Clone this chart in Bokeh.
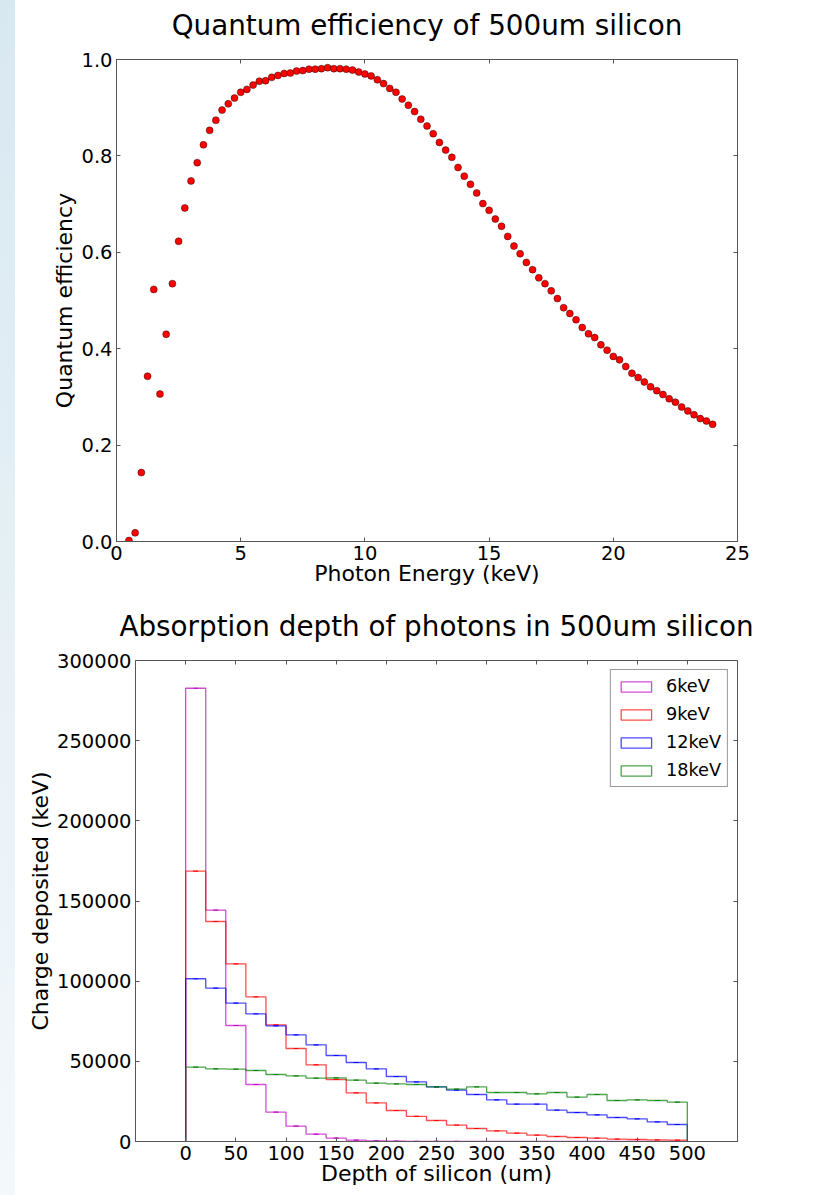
import numpy as np
from bokeh.plotting import figure
from bokeh.layouts import column, row
from bokeh.models import (LinearAxis, FixedTicker, BasicTickFormatter, NumeralTickFormatter,
                          CustomJSTickFormatter, Range1d, Div, Spacer)
from bokeh.embed import file_html
from bokeh.resources import INLINE

# ---------------- data ----------------
# photon energies (keV), regular 0.25 keV grid from 0.5 to 24.0
energy_kev = np.arange(0.5, 24.0 + 0.125, 0.25)
quantum_eff = [
    0.002, 0.018, 0.143, 0.343, 0.523, 0.306, 0.430, 0.535, 0.623, 0.692,
    0.748, 0.786, 0.823, 0.853, 0.874, 0.895, 0.908, 0.920, 0.932, 0.938,
    0.947, 0.955, 0.956, 0.963, 0.967, 0.971, 0.972, 0.976, 0.977, 0.980,
    0.980, 0.981, 0.983, 0.981, 0.981, 0.980, 0.978, 0.974, 0.970,
    0.966, 0.958, 0.950, 0.940, 0.932, 0.918, 0.905, 0.892, 0.876, 0.862,
    0.846, 0.828, 0.812, 0.797, 0.776, 0.758, 0.741, 0.723, 0.701, 0.687,
    0.669, 0.654, 0.633, 0.613, 0.597, 0.579, 0.564, 0.547, 0.535, 0.520,
    0.504, 0.485, 0.473, 0.460, 0.444, 0.431, 0.423, 0.408, 0.397, 0.384,
    0.377, 0.363, 0.349, 0.340, 0.331, 0.321, 0.313, 0.305, 0.296, 0.289,
    0.279, 0.271, 0.263, 0.255, 0.250, 0.243,
]
qe_xticks = [0, 5, 10, 15, 20, 25]
qe_yticks = [0.0, 0.2, 0.4, 0.6, 0.8, 1.0]

# depth bins (um): 25 bins of 20 um from 0 to 500
bin_edges = np.arange(0, 500 + 1, 20)
charge_6kev = [282700, 144300, 72350, 35550, 18290, 9560, 4570, 2080, 830, 400,
               200, 100, 50, 25, 12, 6, 3, 2, 1, 0, 0, 0, 0, 0, 0]
charge_9kev = [168600, 137200, 110800, 90230, 72770, 58000, 47820, 38670, 30350, 24120,
               19330, 15700, 13100, 10190, 8110, 6650, 5200, 3950, 3120, 2490,
               2080, 1450, 1250, 1040, 830]
charge_12kev = [101500, 95630, 86270, 79620, 72140, 66530, 60300, 53640, 49270, 45330,
                40540, 37220, 34100, 32020, 29310, 25990, 23280, 23280, 19540, 18090,
                16630, 14970, 14140, 12270, 10600]
charge_18kev = [46360, 45320, 45110, 44280, 41790, 40960, 39500, 39710, 38250, 36380,
                35970, 35550, 34100, 32640, 34100, 30560, 30560, 29730, 30560, 27650,
                29310, 25570, 25990, 25570, 24530]
depth_xticks = [0, 50, 100, 150, 200, 250, 300, 350, 400, 450, 500]
charge_yticks = [0, 50000, 100000, 150000, 200000, 250000, 300000]
series_labels = ["6keV", "9keV", "12keV", "18keV"]
series_colors = ["#bf00bf", "#ff0000", "#0000ff", "#008000"]
series_values = [charge_6kev, charge_9kev, charge_12kev, charge_18kev]

FONT = "DejaVu Sans"
FRAME = "#555555"
BLANK = CustomJSTickFormatter(code="return ''")


def style(p, xticks, yticks, yfmt, title_standoff):
    p.title.text_font = FONT
    p.title.text_font_size = "27.8px"
    p.title.text_font_style = "normal"
    p.title.text_color = "black"
    p.title.align = "center"
    p.title.vertical_align = "top"
    p.title.standoff = title_standoff
    p.grid.visible = False
    p.outline_line_color = FRAME
    p.outline_line_width = 1
    p.background_fill_color = "white"
    p.border_fill_color = "white"
    xa, ya = p.below[0], p.left[0]
    xa.ticker = FixedTicker(ticks=xticks)
    ya.ticker = FixedTicker(ticks=yticks)
    ya.formatter = yfmt
    for ax in (xa, ya):
        ax.axis_line_color = FRAME
        ax.major_tick_line_color = FRAME
        ax.major_tick_in = 4
        ax.major_tick_out = 0
        ax.minor_tick_in = 0
        ax.minor_tick_out = 0
        ax.major_label_text_font = FONT
        ax.major_label_text_font_size = "19.5px"
        ax.major_label_text_color = "black"
        ax.major_label_standoff = 4
        ax.axis_label_text_font = FONT
        ax.axis_label_text_font_size = "22px"
        ax.axis_label_text_font_style = "normal"
        ax.axis_label_text_color = "black"
    xa.axis_label_standoff = -2
    ya.axis_label_standoff = 1
    # inward ticks on the top and right sides (no labels)
    for loc, tk in (("above", xticks), ("right", yticks)):
        a = LinearAxis(ticker=FixedTicker(ticks=tk), formatter=BLANK,
                       major_label_text_font_size="0px", major_label_standoff=0,
                       axis_line_color=None, major_tick_line_color=FRAME,
                       major_tick_in=4, major_tick_out=0,
                       minor_tick_in=0, minor_tick_out=0)
        p.add_layout(a, loc)


# ---------------- top: quantum efficiency ----------------
p1 = figure(width=802, height=610, output_backend="svg", toolbar_location=None,
            title="Quantum efficiency of 500um silicon",
            x_range=Range1d(0, 25), y_range=Range1d(0, 1.0),
            min_border_left=101, min_border_right=80,
            min_border_top=69, min_border_bottom=59,
            margin=(-10, 0, 0, 0),
            x_axis_label="Photon Energy (keV)", y_axis_label="Quantum efficiency")
style(p1, qe_xticks, qe_yticks, NumeralTickFormatter(format="0.0"), 32)
p1.scatter(energy_kev, quantum_eff, size=7, fill_color="#ff0000",
           line_color="black", line_width=0.6, line_alpha=0.7)

# ---------------- bottom: absorption depth ----------------
p2 = figure(width=797, height=604, output_backend="svg", toolbar_location=None,
            title="Absorption depth of photons in 500um silicon",
            x_range=Range1d(-50, 550), y_range=Range1d(0, 300000),
            min_border_left=115, min_border_right=80,
            min_border_top=69, min_border_bottom=54,
            margin=(-9, 0, 0, 0),
            x_axis_label="Depth of silicon (um)", y_axis_label="Charge deposited (keV)")
style(p2, depth_xticks, charge_yticks, BasicTickFormatter(use_scientific=False), 32)

centers = (bin_edges[:-1] + bin_edges[1:]) / 2.0
for lab, col, vals in zip(series_labels, series_colors, series_values):
    v = np.asarray(vals, dtype=float)
    xs = np.concatenate([[bin_edges[0]], np.repeat(bin_edges, 2)[1:-1], [bin_edges[-1]]])
    ys = np.concatenate([[0.0], np.repeat(v, 2), [0.0]])
    p2.line(xs, ys, line_color=col, line_alpha=0.7, line_width=1.3)
    p2.scatter(centers, v, marker="dash", size=5, line_color=col, line_alpha=0.9, line_width=1.2)
    # legend patch (empty rectangle); NaN geometry so nothing is drawn in the plot
    p2.quad(left=[np.nan], right=[np.nan], top=[np.nan], bottom=[np.nan],
            fill_alpha=0, line_color=col, line_alpha=0.7, line_width=1.3,
            legend_label=lab)

lg = p2.legend[0]
lg.location = "top_right"
lg.margin = 9
lg.padding = 6
lg.spacing = 8
lg.glyph_width = 38
lg.glyph_height = 13
lg.label_height = 20
lg.label_standoff = 11
lg.label_text_font = FONT
lg.label_text_font_size = "17.7px"
lg.label_text_color = "black"
lg.border_line_color = "#333333"
lg.border_line_width = 1
lg.background_fill_color = "white"
lg.background_fill_alpha = 1.0

strip = Div(width=15, height=1195, margin=0,
            styles={"background": "linear-gradient(#d8e8f1, #f3f8fb)"})
layout = row(strip,
             column(p1, row(Spacer(width=5, height=595, margin=0), p2, spacing=0), spacing=0),
             spacing=0)

open("out.html", "w").write(file_html(layout, INLINE))
